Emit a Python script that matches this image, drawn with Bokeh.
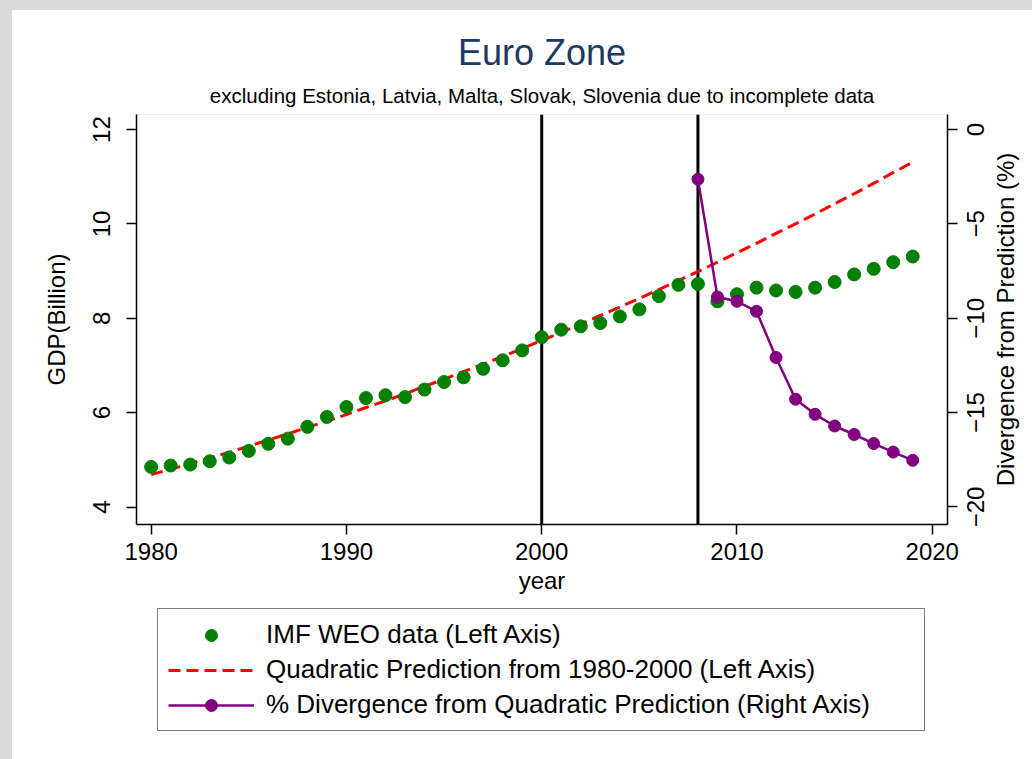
from bokeh.plotting import figure
from bokeh.layouts import row, column
from bokeh.models import (Range1d, LinearAxis, FixedTicker, Span, Legend,
                          LegendItem, Title, ColumnDataSource,
                          CustomLabelingPolicy, Div)
from bokeh.embed import file_html
from bokeh.resources import INLINE

# ---------------- data ----------------
years = list(range(1980, 2020))
gdp = [4.85, 4.88, 4.90, 4.97, 5.05, 5.19, 5.34, 5.45, 5.70, 5.91,
       6.12, 6.31, 6.37, 6.33, 6.49, 6.65, 6.75, 6.93, 7.11, 7.32,
       7.60, 7.76, 7.83, 7.90, 8.04, 8.19, 8.47, 8.71, 8.73, 8.36,
       8.51, 8.65, 8.59, 8.56, 8.65, 8.77, 8.93, 9.05, 9.19, 9.31]
pred = [4.69, 4.80, 4.92, 5.04, 5.16, 5.29, 5.42, 5.55, 5.69, 5.82,
        5.96, 6.11, 6.25, 6.40, 6.56, 6.71, 6.87, 7.03, 7.19, 7.36,
        7.53, 7.70, 7.88, 8.06, 8.24, 8.42, 8.61, 8.80, 8.99, 9.19,
        9.39, 9.59, 9.80, 10.00, 10.21, 10.43, 10.64, 10.86, 11.09, 11.31]
div_years = list(range(2008, 2020))
divergence = [-2.63, -8.87, -9.10, -9.63, -12.08, -14.29, -15.09, -15.71,
              -16.16, -16.64, -17.09, -17.53]
event_years = [2000, 2008]
x_ticks = [1980, 1990, 2000, 2010, 2020]
left_ticks = [4, 6, 8, 10, 12]
right_ticks = [-20, -15, -10, -5, 0]

title_text = "Euro Zone"
subtitle_text = "excluding Estonia, Latvia, Malta, Slovak, Slovenia due to incomplete data"
left_label = "GDP(Billion)"
right_label = "Divergence from Prediction (%)"
x_label = "year"
legend_labels = ["IMF WEO data (Left Axis)",
                 "Quadratic Prediction from 1980-2000 (Left Axis)",
                 "% Divergence from Quadratic Prediction (Right Axis)"]

FONT = "Liberation Sans"
GREEN = "#008000"
RED = "#ff0000"
PURPLE = "#800080"
NAVY = "#203864"
FRAME_GRAY = "#dadada"
DASH = "12 6"

X_RANGE = (1979.25, 2020.78)
LEFT_RANGE = (3.63, 12.32)
RIGHT_RANGE = (-20.93, 0.8)

# page geometry (window 1032 x 759, grey window frame at top / left)
PAD_T, PAD_L = 10, 12
MAIN_W, SIDE_W, TOP_H, LEG_H = 948, 72, 595, 154
FRAME_L, FRAME_R, FRAME_T, FRAME_B = 136, 947, 114, 524

src_main = ColumnDataSource(dict(year=years, gdp=gdp, pred=pred))
src_div = ColumnDataSource(dict(year=div_years, div=divergence))


def style_axis(ax):
    ax.axis_line_color = "black"
    ax.axis_line_width = 1.5
    ax.major_tick_line_color = "black"
    ax.major_tick_line_width = 1.5
    ax.major_tick_in = 0
    ax.major_tick_out = 10
    ax.minor_tick_line_color = None
    ax.major_label_text_font = FONT
    ax.major_label_text_font_size = "24px"
    ax.major_label_text_color = "black"
    ax.axis_label_text_font = FONT
    ax.axis_label_text_font_size = "24px"
    ax.axis_label_text_font_style = "normal"
    ax.axis_label_text_color = "black"


def grey(w, h):
    return Div(text="", width=w, height=h, margin=0,
               styles={"background-color": FRAME_GRAY})


# ---------------- main plot ----------------
p = figure(width=MAIN_W, height=TOP_H, output_backend="svg",
           toolbar_location=None, tools="",
           x_range=Range1d(*X_RANGE), y_range=Range1d(*LEFT_RANGE),
           min_border_left=FRAME_L - PAD_L,
           min_border_right=PAD_L + MAIN_W - FRAME_R,
           min_border_top=FRAME_T - PAD_T,
           min_border_bottom=PAD_T + TOP_H - FRAME_B)
p.extra_y_ranges = {"right": Range1d(*RIGHT_RANGE)}
p.background_fill_color = "white"
p.border_fill_color = "white"
p.outline_line_color = "#e6eeee"
p.xgrid.visible = False
p.ygrid.visible = False

p.title.text = title_text
p.title.align = "center"
p.title.text_font = FONT
p.title.text_font_size = "36px"
p.title.text_font_style = "normal"
p.title.text_color = NAVY
p.title.standoff = 1
p.add_layout(Title(text=subtitle_text, align="center", text_font=FONT,
                   text_font_size="20.5px", text_font_style="normal",
                   text_color="black", standoff=16), "above")

for yr in event_years:
    p.add_layout(Span(location=yr, dimension="height", line_color="black",
                      line_width=3, level="underlay"))

p.line("year", "pred", source=src_main, line_color=RED, line_width=3,
       line_dash=DASH)
p.scatter("year", "gdp", source=src_main, size=13, marker="circle",
          fill_color=GREEN, line_color=GREEN)
p.line("year", "div", source=src_div, line_color=PURPLE, line_width=2.5,
       y_range_name="right")
p.scatter("year", "div", source=src_div, size=12, marker="circle",
          fill_color=PURPLE, line_color=PURPLE, y_range_name="right")

xa = p.xaxis[0]
style_axis(xa)
xa.ticker = FixedTicker(ticks=x_ticks)
xa.axis_label = x_label
xa.major_label_standoff = 8
xa.axis_label_standoff = 4

ya = p.yaxis[0]
style_axis(ya)
ya.ticker = FixedTicker(ticks=left_ticks)
ya.axis_label = left_label
ya.major_label_orientation = "vertical"
ya.major_label_standoff = 16
ya.axis_label_standoff = 21

# right axis: line and ticks here; its labels are shown by the side figure
ra = LinearAxis(y_range_name="right")
style_axis(ra)
ra.ticker = FixedTicker(ticks=right_ticks)
ra.major_label_text_font_size = "0px"
ra.major_label_standoff = 0
ra.major_label_policy = CustomLabelingPolicy(
    code="for (let i = 0; i < indices.size; i++) { indices.unset(i) }\nreturn indices")
p.add_layout(ra, "right")

# ---------------- side figure with right-axis labels ----------------
s = figure(width=SIDE_W, height=TOP_H, output_backend="svg",
           toolbar_location=None, tools="",
           x_range=Range1d(0, 1), y_range=Range1d(*RIGHT_RANGE),
           x_axis_location=None, y_axis_location=None,
           min_border_left=58, min_border_right=0,
           min_border_top=FRAME_T - PAD_T,
           min_border_bottom=PAD_T + TOP_H - FRAME_B)
s.background_fill_color = "white"
s.border_fill_color = "white"
s.outline_line_color = None
s.xgrid.visible = False
s.ygrid.visible = False
s.add_layout(Title(text=right_label, align="center", text_font=FONT,
                   text_font_size="24px", text_font_style="normal",
                   text_color="black", standoff=0), "left")
sa = LinearAxis()
style_axis(sa)
sa.ticker = FixedTicker(ticks=right_ticks)
sa.axis_line_color = None
sa.major_tick_line_color = None
sa.major_tick_out = 0
sa.major_label_orientation = "vertical"
sa.major_label_standoff = 5
s.add_layout(sa, "left")

# ---------------- legend figure ----------------
# key glyphs reuse the data, but the ranges keep them out of view
lg = figure(width=MAIN_W + SIDE_W, height=LEG_H, output_backend="svg",
            toolbar_location=None, tools="",
            x_range=Range1d(0, 1), y_range=Range1d(0, 1),
            x_axis_location=None, y_axis_location=None,
            min_border_left=157 - PAD_L, min_border_right=0,
            min_border_top=3, min_border_bottom=0)
lg.background_fill_color = "white"
lg.border_fill_color = "white"
lg.outline_line_color = None
lg.xgrid.visible = False
lg.ygrid.visible = False
k_gdp = lg.scatter(x=years, y=gdp, size=13, marker="circle",
                   fill_color=GREEN, line_color=GREEN)
k_pred = lg.line(x=years, y=pred, line_color=RED, line_width=3,
                 line_dash=DASH)
k_div_l = lg.line(x=div_years, y=divergence, line_color=PURPLE,
                  line_width=2.5)
k_div_p = lg.scatter(x=div_years, y=divergence, size=12, marker="circle",
                     fill_color=PURPLE, line_color=PURPLE)
legend = Legend(items=[
    LegendItem(label=legend_labels[0], renderers=[k_gdp]),
    LegendItem(label=legend_labels[1], renderers=[k_pred]),
    LegendItem(label=legend_labels[2], renderers=[k_div_l, k_div_p]),
], location="top_left")
legend.border_line_color = "black"
legend.border_line_width = 1.5
legend.background_fill_color = "white"
legend.background_fill_alpha = 1
legend.label_text_font = FONT
legend.label_text_font_size = "26px"
legend.label_text_color = "black"
legend.glyph_width = 86
legend.glyph_height = 30
legend.label_height = 30
legend.label_width = 648
legend.label_standoff = 12
legend.padding = 10
legend.spacing = 4
legend.margin = 0
lg.add_layout(legend, "center")

layout = column(
    grey(PAD_L + MAIN_W + SIDE_W, PAD_T),
    row(grey(PAD_L, TOP_H), p, s),
    row(grey(PAD_L, LEG_H), lg),
)
open("out.html", "w").write(file_html(layout, INLINE))
